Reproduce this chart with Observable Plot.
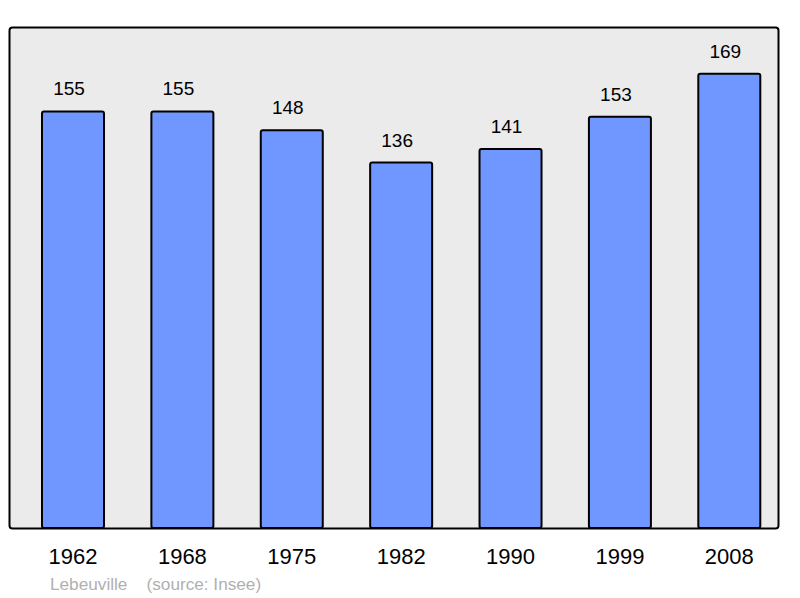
<!DOCTYPE html>
<html>
<head>
<meta charset="utf-8">
<script src="https://cdn.jsdelivr.net/npm/d3@7"></script>
<script src="https://cdn.jsdelivr.net/npm/@observablehq/plot@0.6"></script>
<style>
  html, body { margin: 0; padding: 0; background: #ffffff; }
  #wrap { position: relative; width: 800px; height: 598px; font-family: "Liberation Sans", Arial, sans-serif; }
  #caption { position: absolute; left: 50px; top: 574px; font-size: 17.2px; line-height: 20px; color: #b0b0b0; white-space: pre; }
</style>
</head>
<body>
<div id="wrap"></div>
<script>
const years = ["1962", "1968", "1975", "1982", "1990", "1999", "2008"];
const population = [155, 155, 148, 136, 141, 153, 169];
const commune = "Lebeuville";
const source = "(source: Insee)";

const data = years.map((y, i) => ({year: y, pop: population[i]}));

const chart = Plot.plot({
  width: 800,
  height: 572,
  marginTop: 27,
  marginBottom: 44,
  marginLeft: 9,
  marginRight: 22,
  style: {fontFamily: "'Liberation Sans', Arial, sans-serif", background: "transparent"},
  x: {domain: years, range: [42, 760.3], paddingInner: 0.4332, paddingOuter: 0, round: false, axis: null},
  y: {domain: [0, 186.4], axis: null},
  marks: [
    Plot.frame({fill: "#ebebeb", stroke: "none", rx: 3}),
    Plot.barY(data, {x: "year", y: "pop", fill: "#7097ff", stroke: "#000000", strokeWidth: 2, rx: 2}),
    Plot.text(data, {x: "year", y: "pop", text: d => String(d.pop), dx: -4.5, dy: -22.5, lineAnchor: "middle", fontSize: 19, fill: "#000000"}),
    Plot.text(data, {x: "year", frameAnchor: "bottom", text: "year", dx: -0.5, dy: 28.7, lineAnchor: "middle", fontSize: 22, fill: "#000000"}),
    Plot.frame({fill: "none", stroke: "#000000", strokeWidth: 2, rx: 3})
  ]
});

const wrap = document.getElementById("wrap");
wrap.appendChild(chart);
const cap = document.createElement("div");
cap.id = "caption";
cap.textContent = commune + "\u00a0\u00a0\u00a0\u00a0" + source;
wrap.appendChild(cap);
</script>
</body>
</html>
